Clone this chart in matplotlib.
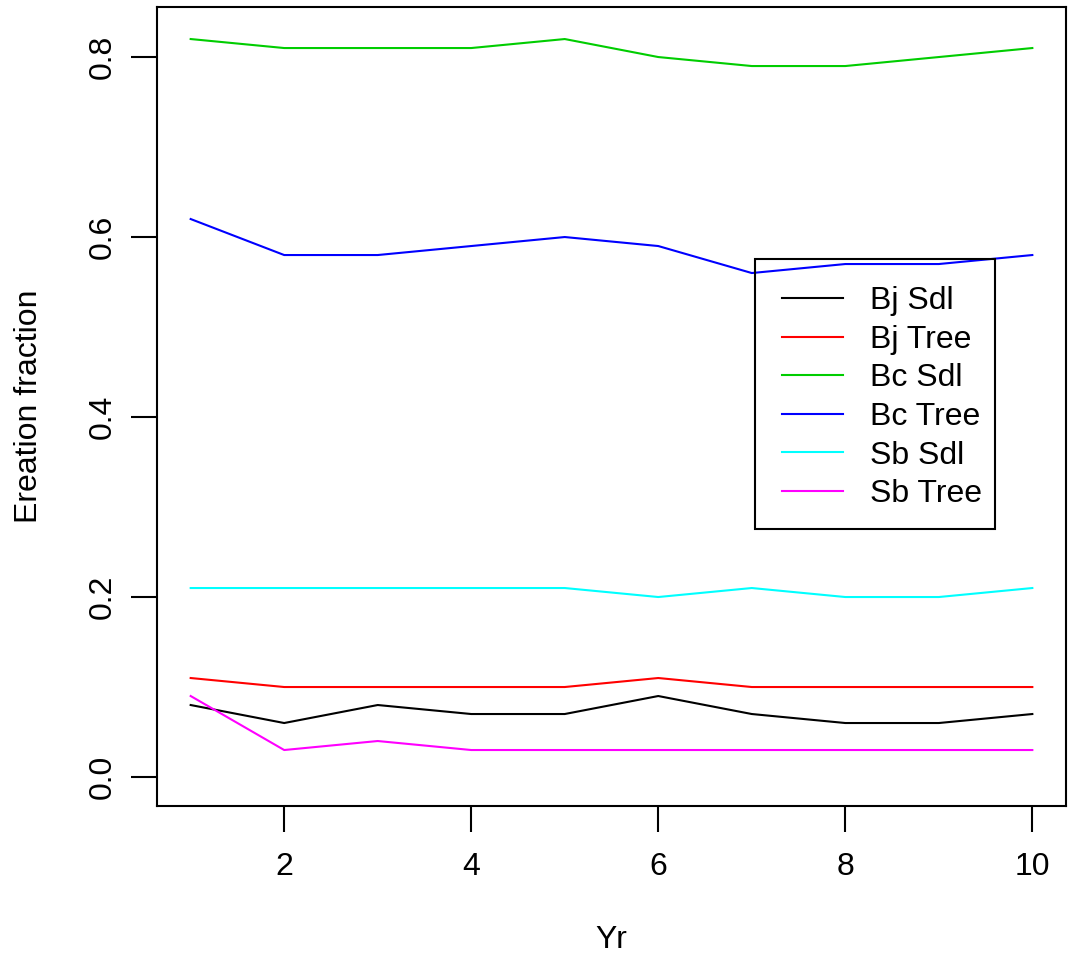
import matplotlib
matplotlib.use("Agg")
import matplotlib.pyplot as plt
from matplotlib.patches import Rectangle

# data
yr = [1, 2, 3, 4, 5, 6, 7, 8, 9, 10]
bj_sdl = [0.08, 0.06, 0.08, 0.07, 0.07, 0.09, 0.07, 0.06, 0.06, 0.07]
bj_tree = [0.11, 0.10, 0.10, 0.10, 0.10, 0.11, 0.10, 0.10, 0.10, 0.10]
bc_sdl = [0.82, 0.81, 0.81, 0.81, 0.82, 0.80, 0.79, 0.79, 0.80, 0.81]
bc_tree = [0.62, 0.58, 0.58, 0.59, 0.60, 0.59, 0.56, 0.57, 0.57, 0.58]
sb_sdl = [0.21, 0.21, 0.21, 0.21, 0.21, 0.20, 0.21, 0.20, 0.20, 0.21]
sb_tree = [0.09, 0.03, 0.04, 0.03, 0.03, 0.03, 0.03, 0.03, 0.03, 0.03]

labels = ["Bj Sdl", "Bj Tree", "Bc Sdl", "Bc Tree", "Sb Sdl", "Sb Tree"]
colors = ["#000000", "#FF0000", "#00CD00", "#0000FF", "#00FFFF", "#FF00FF"]
series = [bj_sdl, bj_tree, bc_sdl, bc_tree, sb_sdl, sb_tree]

plt.rcParams['font.family'] = ['Liberation Sans', 'DejaVu Sans']
fs = 23
W, H = 1071, 957

fig = plt.figure(figsize=(10.71, 9.57), dpi=100)
ax = fig.add_axes([157/W, 1 - 806/H, (1066-157)/W, (806-7)/H])

for s, c, lab in zip(series, colors, labels):
    ax.plot(yr, s, color=c, lw=1.5, label=lab)

ax.set_xlim(0.64, 10.36)
ax.set_ylim(-0.0322, 0.8556)
ax.set_xticks([2, 4, 6, 8, 10])
ax.set_yticks([0.0, 0.2, 0.4, 0.6, 0.8])
ax.set_yticklabels(["0.0", "0.2", "0.4", "0.6", "0.8"], rotation=90, va='center')
ax.tick_params(axis='both', labelsize=fs, length=19, width=1.5, direction='out')
ax.tick_params(axis='x', pad=14)
ax.tick_params(axis='y', pad=9)
for sp in ax.spines.values():
    sp.set_linewidth(1.5)

ax.set_xlabel("Yr", fontsize=fs, labelpad=31)
ax.set_ylabel("Ereation fraction", fontsize=fs, labelpad=32)

leg = ax.legend(loc='upper left', bbox_to_anchor=(755/W, 1 - 259/H),
                bbox_transform=fig.transFigure, fontsize=fs, frameon=False,
                handlelength=1.9, handletextpad=0.85, labelspacing=0.27,
                borderpad=0.85, borderaxespad=0)

# legend box like R's (transparent, square corners)
fig.patches.append(Rectangle((755/W, 1 - 529/H), (995-755)/W, (529-259)/H,
                             transform=fig.transFigure, fill=False,
                             edgecolor='black', lw=1.5, zorder=5))

plt.savefig("out.png", dpi=100)
